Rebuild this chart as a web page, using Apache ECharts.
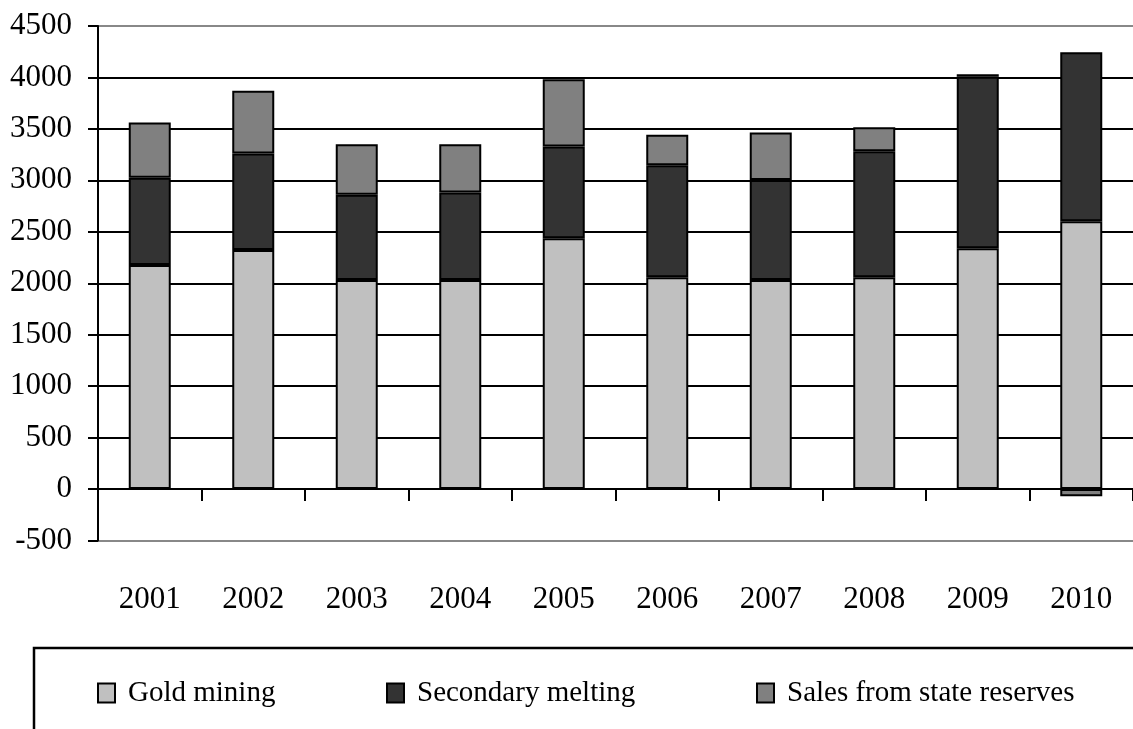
<!DOCTYPE html>
<html>
<head>
<meta charset="utf-8">
<title>Gold supply 2001–2010</title>
<script src="https://cdn.jsdelivr.net/npm/echarts@6/dist/echarts.min.js"></script>
<style>
  html, body { margin: 0; padding: 0; background: #fff; }
  #chart { width: 1133px; height: 729px; }
</style>
</head>
<body>
<div id="chart"></div>
<script>
// Years on the category axis
const years = ['2001', '2002', '2003', '2004', '2005', '2006', '2007', '2008', '2009', '2010'];

// Supply components, tonnes per year
const goldMining = [2177, 2323, 2032, 2032, 2437, 2058, 2032, 2058, 2340, 2602];
const secondaryMelting = [848, 939, 828, 851, 893, 1088, 971, 1226, 1666, 1644];
const stateReserveSales = [538, 609, 492, 469, 653, 297, 463, 233, 26, -70];

// Value axis range and step
const yMin = -500;
const yMax = 4500;
const yStep = 500;

const seriesNames = ['Gold mining', 'Secondary melting', 'Sales from state reserves'];
const seriesColors = ['#c0c0c0', '#333333', '#808080'];
const seriesValues = [goldMining, secondaryMelting, stateReserveSales];

const FONT = "'Liberation Serif', 'Times New Roman', serif";

// Outer gridlines are grey, the inner ones black
const lineCount = Math.round((yMax - yMin) / yStep) + 1;
const splitColors = [];
for (let i = 0; i < lineCount; i++) {
  splitColors.push(i === 0 || i === lineCount - 1 ? '#888888' : '#000000');
}

const chart = echarts.init(document.getElementById('chart'), null, { renderer: 'canvas' });

const legendLefts = [97, 386, 756];

chart.setOption({
  backgroundColor: '#ffffff',
  animation: false,
  grid: { left: 98, right: -2, top: 26, bottom: 188.5, containLabel: false },
  graphic: [{
    type: 'rect',
    shape: { x: 34, y: 648, width: 1200, height: 200 },
    style: { fill: 'none', stroke: '#000', lineWidth: 2.5 },
    silent: true
  }],
  legend: seriesNames.map((name, i) => ({
    data: [name],
    left: legendLefts[i],
    top: 677,
    padding: 0,
    itemWidth: 17,
    itemHeight: 19,
    icon: 'rect',
    selectedMode: false,
    textStyle: {
      fontFamily: FONT,
      fontSize: 29,
      lineHeight: 32,
      color: '#000',
      padding: [0, 0, 0, 8]
    }
  })),
  xAxis: {
    type: 'category',
    data: years,
    boundaryGap: true,
    axisLine: { onZero: true, lineStyle: { color: '#000', width: 2 } },
    axisTick: { show: true, inside: false, length: 12, lineStyle: { color: '#000', width: 2 } },
    axisLabel: { fontFamily: FONT, fontSize: 31, color: '#000', margin: 44 },
    splitLine: { show: false }
  },
  yAxis: {
    type: 'value',
    min: yMin,
    max: yMax,
    interval: yStep,
    axisLine: { show: true, lineStyle: { color: '#000', width: 2 } },
    axisTick: { show: true, inside: false, length: 10, lineStyle: { color: '#000', width: 2 } },
    axisLabel: {
      fontFamily: FONT,
      fontSize: 31,
      color: '#000',
      margin: 26,
      formatter: (v) => String(v)
    },
    splitLine: { show: true, lineStyle: { color: splitColors, width: 2 } }
  },
  series: seriesNames.map((name, i) => ({
    name: name,
    type: 'bar',
    stack: 'supply',
    barWidth: 42,
    data: seriesValues[i],
    itemStyle: { color: seriesColors[i], borderColor: '#000', borderWidth: 2 }
  }))
});
</script>
</body>
</html>
